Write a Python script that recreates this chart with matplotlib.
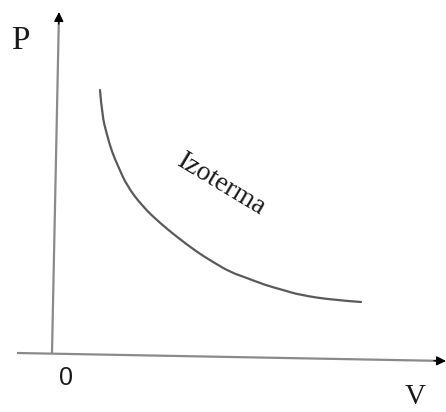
import matplotlib
matplotlib.use("Agg")
import matplotlib.pyplot as plt
from matplotlib.path import Path
from matplotlib.patches import PathPatch
import numpy as np

# Isotherm curve (V, P in arbitrary units, origin at axes crossing)
V = [48, 50, 55, 60, 66, 75, 91, 108, 125, 145, 161, 178, 195, 213, 231, 248, 281, 309]
P = [263, 238, 218, 201, 187, 167, 146, 130, 116, 101, 91, 81, 75, 68, 63, 58, 53, 51]

curve_label = "Izoterma"
x_label = "V"
y_label = "P"
origin_label = "0"

fig = plt.figure(figsize=(4.46, 4.12), dpi=100)
ax = fig.add_axes([0, 0, 1, 1])
ax.set_xlim(-52, 394)
ax.set_ylim(-59, 353)
ax.axis("off")

axis_col = "#8a8a8a"
# horizontal axis (slightly slanted as in the source)
hx0, hy0, hx1, hy1 = -35, 0, 394, -8
ax.plot([hx0, hx1 - 8], [hy0, hy0 + (hy1 - hy0) * (hx1 - 8 - hx0) / (hx1 - hx0)],
        color=axis_col, lw=1.6, solid_capstyle="butt")
ax.annotate("", xy=(hx1, hy1), xytext=(hx1 - 12, hy1 + 0.22),
            arrowprops=dict(arrowstyle="-|>", color="black", lw=1.0,
                            mutation_scale=14, shrinkA=0, shrinkB=0))
# vertical axis
vx0, vy0, vx1, vy1 = 0, 0, 7, 341
ax.plot([vx0, vx0 + (vx1 - vx0) * (vy1 - 8) / vy1], [vy0, vy1 - 8],
        color=axis_col, lw=1.6, solid_capstyle="butt")
ax.annotate("", xy=(vx1, vy1), xytext=(vx1 - 0.25, vy1 - 12),
            arrowprops=dict(arrowstyle="-|>", color="black", lw=1.0,
                            mutation_scale=14, shrinkA=0, shrinkB=0))

# isotherm: smooth quadratic Bezier path through the midpoints of the read points
pts = np.column_stack([V, P]).astype(float)
verts = [tuple(pts[0])]
codes = [Path.MOVETO]
for i in range(1, len(pts) - 1):
    mid = (pts[i] + pts[i + 1]) / 2
    if i == len(pts) - 2:
        mid = pts[i + 1]
    verts += [tuple(pts[i]), tuple(mid)]
    codes += [Path.CURVE3, Path.CURVE3]
ax.add_patch(PathPatch(Path(verts, codes), facecolor="none", edgecolor="#5a5a5a",
                       lw=1.6, capstyle="round"))

ax.text(170, 168, curve_label, rotation=-31, rotation_mode="anchor",
        ha="center", va="center", fontsize=20, family="Liberation Serif", color="#1a1a1a")
ax.text(-32, 312, y_label, ha="center", va="center", fontsize=24,
        family="Liberation Serif", color="#1a1a1a")
ax.text(363, -51, x_label, ha="center", va="baseline", fontsize=21,
        family="Liberation Serif", color="#1a1a1a")
ax.text(14, -25, origin_label, ha="center", va="center", fontsize=18,
        family="Liberation Sans", color="#1a1a1a")

fig.savefig("out.png", dpi=100)
